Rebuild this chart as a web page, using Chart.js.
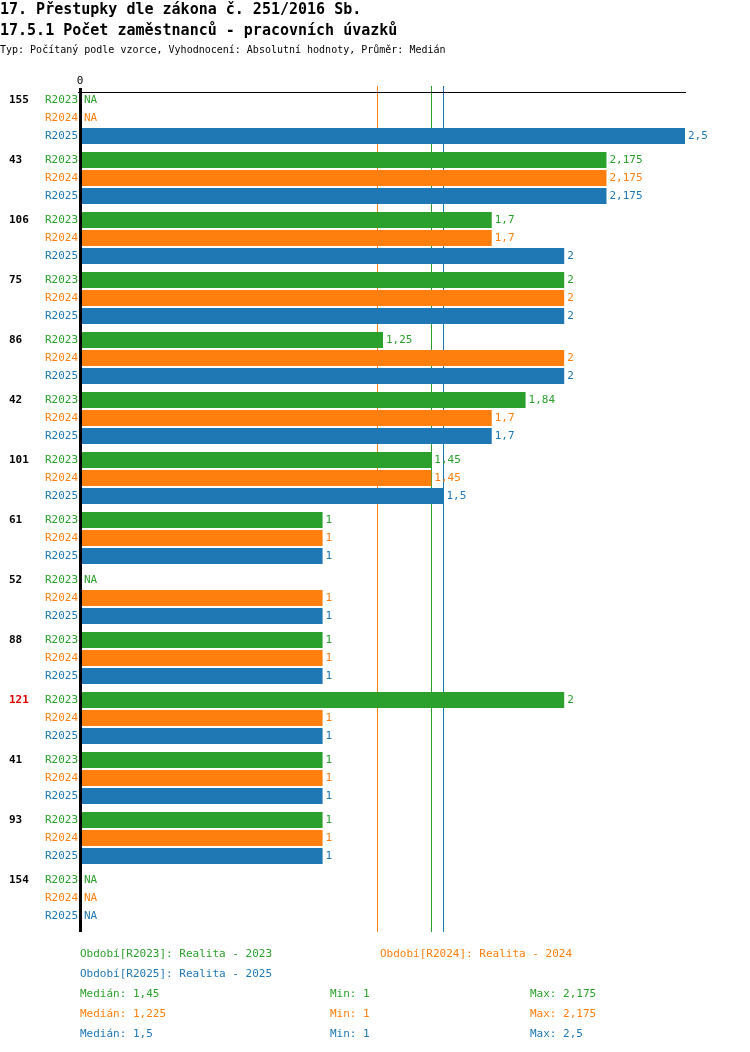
<!DOCTYPE html>
<html><head><meta charset="utf-8">
<script src="https://cdn.jsdelivr.net/npm/chart.js@4/dist/chart.umd.min.js"></script>
<style>
body{margin:0;background:#fff;font-family:"DejaVu Sans Mono",monospace}
#wrap{position:relative;width:750px;height:1052px}
canvas{position:absolute;left:0;top:0}
.t{position:absolute;white-space:pre;font-size:11px}
</style></head><body>
<div id="wrap">
<canvas id="c" width="750" height="1052"></canvas>
<div class="t" style="left:0;top:0;font-size:15px;font-weight:bold">17. Přestupky dle zákona č. 251/2016 Sb.</div>
<div class="t" style="left:0;top:21px;font-size:15px;font-weight:bold">17.5.1 Počet zaměstnanců - pracovních úvazků</div>
<div class="t" style="left:0;top:44px;font-size:10px">Typ: Počítaný podle vzorce, Vyhodnocení: Absolutní hodnoty, Průměr: Medián</div>
<div class="t" style="left:80px;top:947px;color:#2ca02c">Období[R2023]: Realita - 2023</div>
<div class="t" style="left:380px;top:947px;color:#ff7f0e">Období[R2024]: Realita - 2024</div>
<div class="t" style="left:80px;top:967px;color:#1f77b4">Období[R2025]: Realita - 2025</div>
<div class="t" style="left:80px;top:987px;color:#2ca02c">Medián: 1,45</div>
<div class="t" style="left:330px;top:987px;color:#2ca02c">Min: 1</div>
<div class="t" style="left:530px;top:987px;color:#2ca02c">Max: 2,175</div>
<div class="t" style="left:80px;top:1007px;color:#ff7f0e">Medián: 1,225</div>
<div class="t" style="left:330px;top:1007px;color:#ff7f0e">Min: 1</div>
<div class="t" style="left:530px;top:1007px;color:#ff7f0e">Max: 2,175</div>
<div class="t" style="left:80px;top:1027px;color:#1f77b4">Medián: 1,5</div>
<div class="t" style="left:330px;top:1027px;color:#1f77b4">Min: 1</div>
<div class="t" style="left:530px;top:1027px;color:#1f77b4">Max: 2,5</div>
</div>
<script>
const groups = ["155","43","106","75","86","42","101","61","52","88","121","41","93","154"];
const seriesNames = ["R2023","R2024","R2025"];
const colors = ["#2ca02c","#ff7f0e","#1f77b4"];
const r2023 = [null,2.175,1.7,2,1.25,1.84,1.45,1,null,1,2,1,1,null];
const r2024 = [null,2.175,1.7,2,2,1.7,1.45,1,1,1,1,1,1,null];
const r2025 = [2.5,2.175,2,2,2,1.7,1.5,1,1,1,1,1,1,null];
const medians = [1.45,1.225,1.5];
const redGroups = ["121"];

const FONT = '11px "DejaVu Sans Mono", monospace';
const fmt = (v) => String(v).replace(".", ",");

const decor = {
  id: "decor",
  beforeDatasetsDraw(chart) {
    const { ctx, chartArea, scales } = chart;
    ctx.save();
    ctx.lineWidth = 1;
    medians.forEach((m, i) => {
      const x = Math.round(scales.x.getPixelForValue(m)) + 0.5;
      ctx.strokeStyle = colors[i];
      ctx.beginPath(); ctx.moveTo(x, 86); ctx.lineTo(x, 932); ctx.stroke();
    });
    ctx.strokeStyle = "#000";
    ctx.beginPath(); ctx.moveTo(78, 92.5); ctx.lineTo(686, 92.5); ctx.stroke();
    ctx.restore();
  },
  afterDatasetsDraw(chart) {
    const { ctx, scales } = chart;
    ctx.save();
    ctx.fillStyle = "#000";
    ctx.fillRect(79, 88, 3, 844);
    ctx.font = FONT;
    ctx.textBaseline = "middle";
    ctx.textAlign = "center";
    ctx.fillText("0", 80, 81);
    chart.data.datasets.forEach((ds, di) => {
      const meta = chart.getDatasetMeta(di);
      meta.data.forEach((bar, i) => {
        const y = bar.y;
        ctx.fillStyle = colors[di];
        ctx.textAlign = "right";
        ctx.fillText(seriesNames[di], 78, y);
        ctx.textAlign = "left";
        const v = ds.data[i];
        if (v === null) ctx.fillText("NA", 84, y);
        else ctx.fillText(fmt(v), scales.x.getPixelForValue(v) + 3, y);
        if (di === 0) {
          ctx.font = 'bold 11px "DejaVu Sans Mono", monospace';
          ctx.fillStyle = redGroups.includes(groups[i]) ? "#e00000" : "#000";
          ctx.fillText(groups[i], 9, y);
          ctx.font = FONT;
        }
      });
    });
    ctx.restore();
  }
};

new Chart(document.getElementById("c"), {
  type: "bar",
  data: {
    labels: groups,
    datasets: [r2023, r2024, r2025].map((d, i) => ({
      label: seriesNames[i], data: d, backgroundColor: colors[i],
      barPercentage: 0.89, categoryPercentage: 0.9
    }))
  },
  options: {
    indexAxis: "y",
    responsive: false,
    animation: false,
    layout: { padding: { left: 81, right: 65, top: 88, bottom: 124 } },
    scales: {
      x: { display: false, min: 0, max: 2.5 },
      y: { display: false }
    },
    plugins: { legend: { display: false }, tooltip: { enabled: false } }
  },
  plugins: [decor]
});
</script>
</body></html>
